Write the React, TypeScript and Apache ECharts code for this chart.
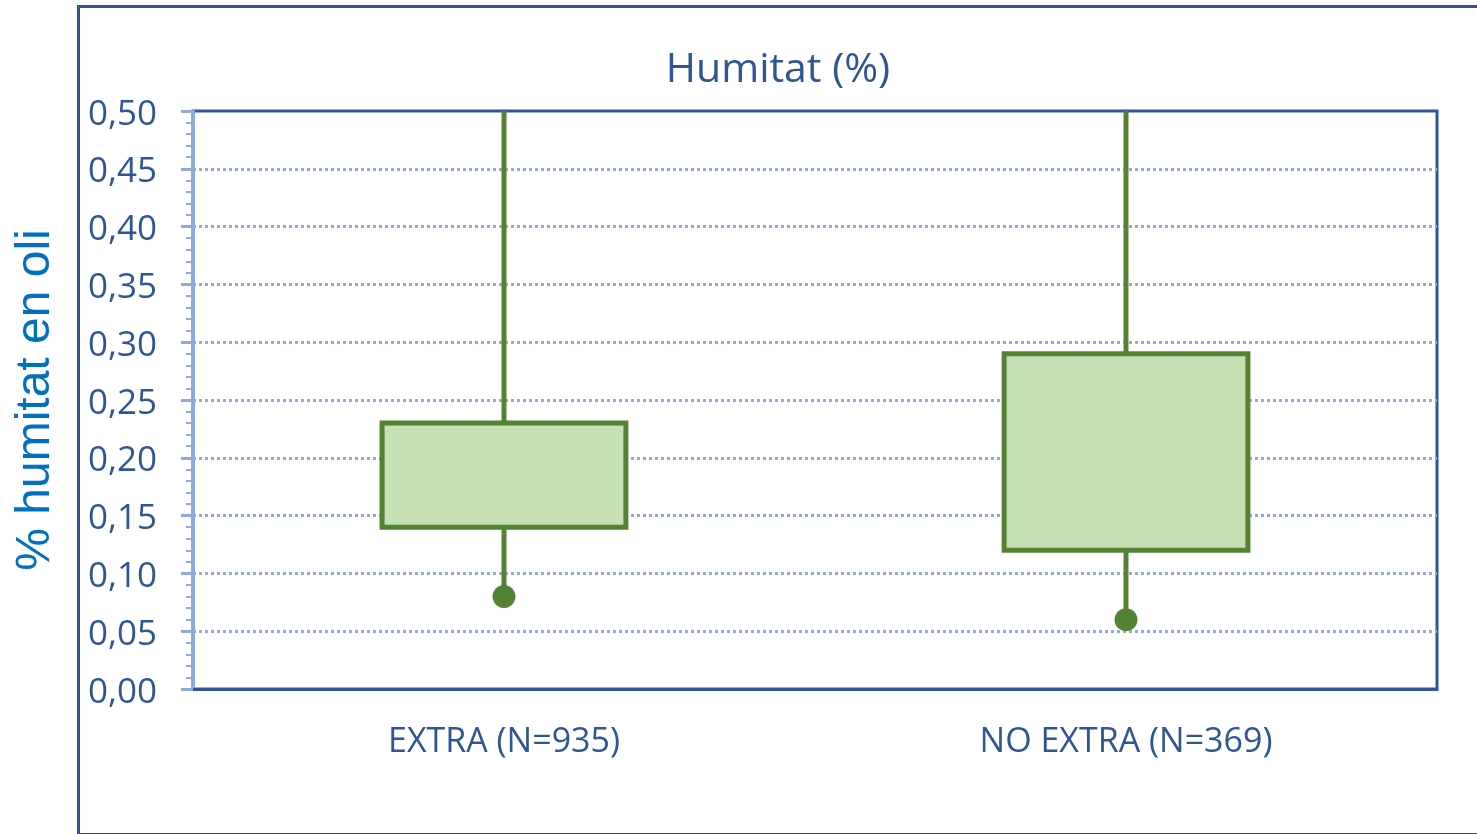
import React, { useEffect, useRef } from "react";
import * as echarts from "echarts";

const categories = ["EXTRA (N=935)", "NO EXTRA (N=369)"];
const lowValues = [0.08, 0.06];
const q1Values = [0.14, 0.12];
const q3Values = [0.23, 0.29];
const highValues = [0.5, 0.5];
const yTicks = { min: 0, max: 0.5, interval: 0.05 };

const DARK_BLUE = "#2F5597";
const LIGHT_BLUE = "#8FAADC";
const GREEN = "#548235";
const GREEN_FILL = "#C5E0B4";

export default function App() {
  const ref = useRef<HTMLDivElement>(null);
  useEffect(() => {
    document.body.style.margin = "0";
    const chart = echarts.init(ref.current!, undefined, { renderer: "svg" });
    const data = categories.map((_, i) => [i, lowValues[i], q1Values[i], q3Values[i], highValues[i]]);
    chart.setOption({
      animation: false,
      graphic: [
        {
          type: "rect",
          shape: { x: 78.5, y: 6.5, width: 1420, height: 828 },
          style: { fill: "none", stroke: DARK_BLUE, lineWidth: 3 },
          silent: true,
          z: 0,
        },
        {
          type: "text",
          x: 778,
          y: 66,
          style: {
            text: "Humitat (%)",
            fill: DARK_BLUE,
            font: "41px 'Open Sans'",
            textAlign: "center",
            textVerticalAlign: "middle",
          },
        },
      ],
      grid: {
        left: 193,
        top: 111,
        right: 40,
        bottom: 145,
        outerBoundsMode: "none",
        containLabel: false,
        show: true,
        borderColor: DARK_BLUE,
        borderWidth: 3,
        backgroundColor: "transparent",
      },
      xAxis: {
        type: "category",
        data: categories,
        axisLine: { lineStyle: { color: DARK_BLUE, width: 3 } },
        axisTick: { show: false },
        axisLabel: {
          color: DARK_BLUE,
          fontSize: 34,
          fontFamily: "Open Sans",
          margin: 33,
        },
      },
      yAxis: {
        type: "value",
        min: yTicks.min,
        max: yTicks.max,
        interval: yTicks.interval,
        name: "% humitat en oli",
        nameLocation: "middle",
        nameGap: 137,
        nameTextStyle: {
          color: "#0070C0",
          fontSize: 48,
          fontFamily: "Liberation Sans",
        },
        axisLine: { show: true, lineStyle: { color: LIGHT_BLUE, width: 3 } },
        axisTick: { show: true, length: 12, lineStyle: { color: LIGHT_BLUE, width: 3 } },
        minorTick: { show: true, splitNumber: 5, length: 7, lineStyle: { color: LIGHT_BLUE, width: 2 } },
        splitLine: {
          show: true,
          showMaxLine: false,
          showMinLine: false,
          lineStyle: { color: LIGHT_BLUE, width: 3, type: [3, 3] },
        },
        axisLabel: {
          color: DARK_BLUE,
          fontSize: 35,
          fontFamily: "Open Sans",
          margin: 36,
          formatter: (v: number) => v.toFixed(2).replace(".", ","),
        },
      },
      series: [
        {
          type: "custom",
          clip: true,
          z: 5,
          data,
          encode: { x: 0, y: [1, 2, 3, 4] },
          renderItem: (params: any, api: any) => {
            const xi = api.value(0);
            const low = api.coord([xi, api.value(1)]);
            const q1 = api.coord([xi, api.value(2)]);
            const q3 = api.coord([xi, api.value(3)]);
            const high = api.coord([xi, api.value(4)]);
            const bw = api.size([1, 0])[0] * 0.392;
            const cx = q1[0];
            return {
              type: "group",
              children: [
                {
                  type: "line",
                  shape: { x1: cx, y1: q3[1], x2: cx, y2: high[1] },
                  style: { stroke: GREEN, lineWidth: 5 },
                },
                {
                  type: "line",
                  shape: { x1: cx, y1: q1[1], x2: cx, y2: low[1] },
                  style: { stroke: GREEN, lineWidth: 5 },
                },
                {
                  type: "rect",
                  shape: { x: cx - bw / 2, y: q3[1], width: bw, height: q1[1] - q3[1] },
                  style: { fill: GREEN_FILL, stroke: GREEN, lineWidth: 5 },
                },
                {
                  type: "circle",
                  shape: { cx, cy: low[1], r: 11.5 },
                  style: { fill: GREEN },
                },
              ],
            };
          },
        },
      ],
    });
    return () => chart.dispose();
  }, []);
  return (
    <div
      ref={ref}
      style={{ position: "fixed", left: 0, top: 0, width: 1477, height: 834 }}
    />
  );
}
